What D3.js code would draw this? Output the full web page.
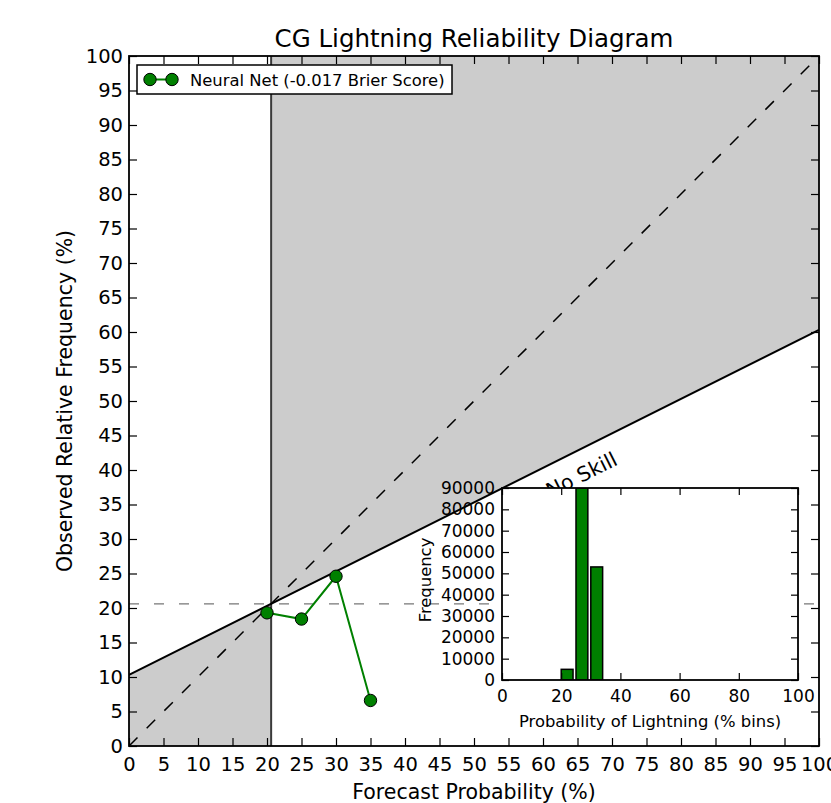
<!DOCTYPE html>
<html>
<head>
<meta charset="utf-8">
<script src="https://cdn.jsdelivr.net/npm/d3@7"></script>
<style>
  html, body { margin: 0; padding: 0; background: #fff; }
  svg { display: block; font-family: "DejaVu Sans", sans-serif; }
</style>
</head>
<body>
<svg id="chart" width="831" height="803"></svg>
<script>
// ---------- data ----------
const forecastBins = [20, 25, 30, 35];
const observedFreq = [19.3, 18.4, 24.6, 6.6];
const climatology = 20.6;
const histBinStart = [20, 25, 30];
const histCounts = [5000, 90000, 53000];
const histBinWidth = 4;
const mainTicks = [0,5,10,15,20,25,30,35,40,45,50,55,60,65,70,75,80,85,90,95,100];
const insetXTicks = [0, 20, 40, 60, 80, 100];
const insetYTicks = [0,10000,20000,30000,40000,50000,60000,70000,80000,90000];
const titleText = "CG Lightning Reliability Diagram";
const xLabelText = "Forecast Probability (%)";
const yLabelText = "Observed Relative Frequency (%)";
const legendText = "Neural Net (-0.017 Brier Score)";
const noSkillText = "No Skill";
const insetXLabel = "Probability of Lightning (% bins)";
const insetYLabel = "Frequency";

// ---------- layout ----------
const svg = d3.select("#chart");
const M = { left: 129, top: 56, width: 690, height: 690 };
const x = d3.scaleLinear().domain([0, 100]).range([M.left, M.left + M.width]);
const y = d3.scaleLinear().domain([0, 100]).range([M.top + M.height, M.top]);
const noSkill = v => (v + climatology) / 2;
const green = "#008000";
const grey = "#cccccc";

svg.append("defs").append("clipPath").attr("id", "mainclip")
  .append("rect").attr("x", M.left).attr("y", M.top).attr("width", M.width).attr("height", M.height);

const g = svg.append("g").attr("clip-path", "url(#mainclip)");
const line = d3.line().x(d => x(d[0])).y(d => y(d[1]));

// shaded skill regions
g.append("path").attr("fill", grey)
  .attr("d", line([[climatology, noSkill(climatology)], [100, noSkill(100)], [100, 100], [climatology, 100]]) + "Z");
g.append("path").attr("fill", grey)
  .attr("d", line([[0, 0], [climatology, 0], [climatology, noSkill(climatology)], [0, noSkill(0)]]) + "Z");

// climatology lines
g.append("path").attr("stroke", "#3a3a3a").attr("stroke-width", 2).attr("fill", "none")
  .attr("d", line([[climatology, 0], [climatology, 100]]));
g.append("path").attr("stroke", "#777").attr("stroke-width", 1.3).attr("fill", "none")
  .attr("stroke-dasharray", "10,15")
  .attr("d", line([[0, climatology], [100, climatology]]));

// perfect reliability
g.append("path").attr("stroke", "#000").attr("stroke-width", 1.5).attr("fill", "none")
  .attr("stroke-dasharray", "12,13")
  .attr("d", line([[0, 0], [100, 100]]));

// no skill
g.append("path").attr("stroke", "#000").attr("stroke-width", 2).attr("fill", "none")
  .attr("d", line([[0, noSkill(0)], [100, noSkill(100)]]));

// data
const pts = forecastBins.map((f, i) => [f, observedFreq[i]]);
g.append("path").attr("stroke", green).attr("stroke-width", 2).attr("fill", "none").attr("d", line(pts));
g.selectAll("circle.pt").data(pts).enter().append("circle")
  .attr("class", "pt").attr("cx", d => x(d[0])).attr("cy", d => y(d[1])).attr("r", 6.2)
  .attr("fill", green).attr("stroke", "#000").attr("stroke-width", 1);

// no skill text
const ang = -Math.atan((y(0) - y(1)) / (x(1) - x(0)) * 0.5) * 180 / Math.PI;
svg.append("text").attr("transform", `translate(${x(61.1)},${y(35.9)}) rotate(${ang})`)
  .attr("font-size", 20.5).attr("fill", "#000").text(noSkillText);

// axes (inward ticks on all sides)
const tickLen = 8;
const axB = d3.axisBottom(x).tickValues(mainTicks).tickSizeInner(-tickLen).tickSizeOuter(0).tickPadding(11).tickFormat(d3.format("d"));
const axL = d3.axisLeft(y).tickValues(mainTicks).tickSizeInner(-tickLen).tickSizeOuter(0).tickPadding(6).tickFormat(d3.format("d"));
const axT = d3.axisTop(x).tickValues(mainTicks).tickSizeInner(-tickLen).tickSizeOuter(0).tickFormat("");
const axR = d3.axisRight(y).tickValues(mainTicks).tickSizeInner(-tickLen).tickSizeOuter(0).tickFormat("");
function styleAxis(sel, fs) {
  sel.select(".domain").remove();
  sel.selectAll(".tick line").attr("stroke", "#000").attr("stroke-width", 1.2);
  sel.selectAll(".tick text").attr("font-size", fs).attr("fill", "#000").attr("font-family", "DejaVu Sans, sans-serif");
}
svg.append("g").attr("transform", `translate(0,${M.top + M.height})`).call(axB).call(styleAxis, 19.5);
svg.append("g").attr("transform", `translate(${M.left},0)`).call(axL).call(styleAxis, 19.5);
svg.append("g").attr("transform", `translate(0,${M.top})`).call(axT).call(styleAxis, 19.5);
svg.append("g").attr("transform", `translate(${M.left + M.width},0)`).call(axR).call(styleAxis, 19.5);
svg.append("rect").attr("x", M.left).attr("y", M.top).attr("width", M.width).attr("height", M.height)
  .attr("fill", "none").attr("stroke", "#000").attr("stroke-width", 1.8);

// titles
svg.append("text").attr("x", M.left + M.width / 2).attr("y", 47).attr("text-anchor", "middle")
  .attr("font-size", 24.5).text(titleText);
svg.append("text").attr("x", M.left + M.width / 2).attr("y", 799).attr("text-anchor", "middle")
  .attr("font-size", 20.5).text(xLabelText);
svg.append("text").attr("transform", `translate(71.5,${M.top + M.height / 2}) rotate(-90)`)
  .attr("text-anchor", "middle").attr("font-size", 20.5).text(yLabelText);

// legend
const lg = svg.append("g");
lg.append("rect").attr("x", 137).attr("y", 65).attr("width", 315).attr("height", 29)
  .attr("fill", "#fff").attr("stroke", "#000").attr("stroke-width", 1.5);
lg.append("line").attr("x1", 150).attr("x2", 172).attr("y1", 79.5).attr("y2", 79.5)
  .attr("stroke", green).attr("stroke-width", 2);
[150, 172].forEach(cx => lg.append("circle").attr("cx", cx).attr("cy", 79.5).attr("r", 6.2)
  .attr("fill", green).attr("stroke", "#000").attr("stroke-width", 1));
lg.append("text").attr("x", 190).attr("y", 85.5).attr("font-size", 16.4).text(legendText);

// ---------- inset histogram ----------
const I = { left: 502, top: 488, width: 296, height: 192 };
const ix = d3.scaleLinear().domain([0, 100]).range([I.left, I.left + I.width]);
const iy = d3.scaleLinear().domain([0, 90000]).range([I.top + I.height, I.top]);
svg.append("rect").attr("x", I.left).attr("y", I.top).attr("width", I.width).attr("height", I.height).attr("fill", "#fff");
svg.append("defs").append("clipPath").attr("id", "insetclip")
  .append("rect").attr("x", I.left).attr("y", I.top).attr("width", I.width).attr("height", I.height);
svg.append("g").attr("clip-path", "url(#insetclip)")
  .selectAll("rect").data(histBinStart.map((b, i) => [b, histCounts[i]])).enter().append("rect")
  .attr("x", d => ix(d[0])).attr("width", d => ix(d[0] + histBinWidth) - ix(d[0]))
  .attr("y", d => iy(d[1])).attr("height", d => iy(0) - iy(d[1]))
  .attr("fill", green).attr("stroke", "#000").attr("stroke-width", 1.5);
const iTick = 7;
svg.append("g").attr("transform", `translate(0,${I.top + I.height})`)
  .call(d3.axisBottom(ix).tickValues(insetXTicks).tickSizeInner(-iTick).tickSizeOuter(0).tickPadding(10).tickFormat(d3.format("d")))
  .call(styleAxis, 17);
svg.append("g").attr("transform", `translate(${I.left},0)`)
  .call(d3.axisLeft(iy).tickValues(insetYTicks).tickSizeInner(-iTick).tickSizeOuter(0).tickPadding(7).tickFormat(d3.format("d")))
  .call(styleAxis, 17);
svg.append("g").attr("transform", `translate(0,${I.top})`)
  .call(d3.axisTop(ix).tickValues(insetXTicks).tickSizeInner(-iTick).tickSizeOuter(0).tickFormat(""))
  .call(styleAxis, 17);
svg.append("g").attr("transform", `translate(${I.left + I.width},0)`)
  .call(d3.axisRight(iy).tickValues(insetYTicks).tickSizeInner(-iTick).tickSizeOuter(0).tickFormat(""))
  .call(styleAxis, 17);
svg.append("rect").attr("x", I.left).attr("y", I.top).attr("width", I.width).attr("height", I.height)
  .attr("fill", "none").attr("stroke", "#000").attr("stroke-width", 1.8);
svg.append("text").attr("x", I.left + I.width / 2).attr("y", 727).attr("text-anchor", "middle")
  .attr("font-size", 16.4).text(insetXLabel);
svg.append("text").attr("transform", `translate(431,${I.top + I.height / 2 - 4}) rotate(-90)`)
  .attr("text-anchor", "middle").attr("font-size", 16.4).text(insetYLabel);
</script>
</body>
</html>
